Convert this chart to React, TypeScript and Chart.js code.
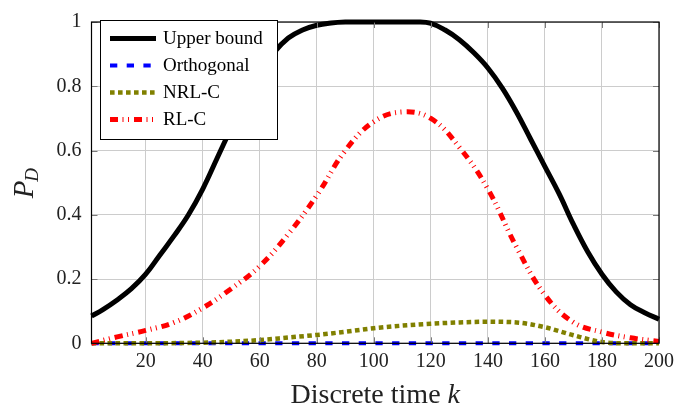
import React, { useEffect, useRef } from "react";
import { Chart, registerables } from "chart.js";

Chart.register(...registerables);

const kUpper = [1, 5, 10, 15, 20, 25, 30, 35, 40, 45, 50, 55, 60, 65, 70, 75, 80, 85, 90, 95, 100, 105, 110, 115, 120, 125, 130, 135, 140, 145, 150, 155, 160, 165, 170, 175, 180, 185, 190, 195, 200];
const upperBound = [0.085, 0.105, 0.135, 0.17, 0.215, 0.275, 0.335, 0.4, 0.48, 0.575, 0.67, 0.76, 0.84, 0.905, 0.95, 0.975, 0.99, 0.997, 1.0, 1.0, 1.0, 1.0, 1.0, 1.0, 0.996, 0.975, 0.945, 0.905, 0.857, 0.795, 0.72, 0.635, 0.55, 0.465, 0.37, 0.285, 0.215, 0.16, 0.12, 0.095, 0.075];

const kOrth = [1, 50, 100, 150, 200];
const orthogonal = [0, 0, 0, 0, 0];

const kNrl = [1, 20, 40, 50, 60, 70, 80, 90, 100, 110, 120, 130, 140, 150, 160, 170, 180, 190, 200];
const nrlC = [0, 0, 0.002, 0.005, 0.01, 0.018, 0.026, 0.036, 0.047, 0.055, 0.061, 0.065, 0.067, 0.065, 0.05, 0.025, 0.004, 0, 0];

const kRl = [1, 10, 20, 30, 40, 50, 60, 70, 80, 90, 100, 110, 120, 130, 140, 150, 160, 170, 180, 190, 200];
const rlC = [0, 0.02, 0.04, 0.065, 0.11, 0.17, 0.24, 0.34, 0.46, 0.6, 0.69, 0.72, 0.7, 0.61, 0.48, 0.3, 0.15, 0.065, 0.035, 0.017, 0.006];

const xTicks = [20, 40, 60, 80, 100, 120, 140, 160, 180, 200];
const yTicks = [0, 0.2, 0.4, 0.6, 0.8, 1];

const seriesNames = ["Upper bound", "Orthogonal", "NRL-C", "RL-C"];

const SERIF = "'Liberation Serif', 'Times New Roman', serif";

const toPts = (xs: number[], ys: number[]) => xs.map((x, i) => ({ x, y: ys[i] }));

const styles = [
  { color: "#000000", width: 5, dash: [] as number[], mono: false },
  { color: "#0000ff", width: 4, dash: [7.3, 9.4], mono: true },
  { color: "#808000", width: 4.5, dash: [4.6, 3.4], mono: true },
  { color: "#ff0000", width: 5, dash: [8, 4.5, 1, 4.5, 1, 5], mono: false },
];

const framePlugin = {
  id: "frame",
  afterDatasetsDraw(chart: any) {
    const { ctx, chartArea: a, scales } = chart;
    ctx.save();
    // inner tick marks
    ctx.strokeStyle = "#7a7a7a";
    ctx.lineWidth = 1;
    const tl = 6;
    xTicks.forEach((v) => {
      const x = Math.round(scales.x.getPixelForValue(v)) + 0.5;
      ctx.beginPath();
      ctx.moveTo(x, a.bottom);
      ctx.lineTo(x, a.bottom - tl);
      ctx.moveTo(x, a.top);
      ctx.lineTo(x, a.top + tl);
      ctx.stroke();
    });
    yTicks.forEach((v) => {
      const y = Math.round(scales.y.getPixelForValue(v)) + 0.5;
      ctx.beginPath();
      ctx.moveTo(a.left, y);
      ctx.lineTo(a.left + tl, y);
      ctx.moveTo(a.right, y);
      ctx.lineTo(a.right - tl, y);
      ctx.stroke();
    });
    // border
    ctx.strokeStyle = "#000";
    ctx.lineWidth = 1.2;
    ctx.setLineDash([]);
    ctx.strokeRect(a.left, a.top, a.right - a.left, a.bottom - a.top);

    // legend
    const lx = 100, ly = 20, lw = 177, lh = 119;
    ctx.fillStyle = "#fff";
    ctx.fillRect(lx, ly, lw, lh);
    ctx.lineWidth = 1;
    ctx.strokeStyle = "#000";
    ctx.strokeRect(lx + 0.5, ly + 0.5, lw, lh);
    ctx.font = `19px ${SERIF}`;
    ctx.textBaseline = "middle";
    ctx.textAlign = "left";
    seriesNames.forEach((name, i) => {
      const y = 38.5 + i * 27;
      const s = styles[i];
      ctx.beginPath();
      ctx.strokeStyle = s.color;
      ctx.lineWidth = s.width;
      ctx.lineCap = "butt";
      ctx.setLineDash(s.dash);
      ctx.moveTo(110, y);
      ctx.lineTo(156, y);
      ctx.stroke();
      ctx.setLineDash([]);
      ctx.fillStyle = "#000";
      ctx.fillText(name, 163, y + 1);
    });

    // x title
    ctx.fillStyle = "#222";
    ctx.textBaseline = "alphabetic";
    const t1 = "Discrete time ";
    ctx.font = `italic 28px ${SERIF}`;
    const wk = ctx.measureText("k").width;
    ctx.font = `28px ${SERIF}`;
    const w1 = ctx.measureText(t1).width;
    const cx = (a.left + a.right) / 2;
    const sx = cx - (w1 + wk) / 2;
    ctx.fillText(t1, sx, 403);
    ctx.font = `italic 28px ${SERIF}`;
    ctx.fillText("k", sx + w1, 403);

    // y title
    ctx.save();
    ctx.translate(33, (a.top + a.bottom) / 2);
    ctx.rotate(-Math.PI / 2);
    ctx.font = `italic 29px ${SERIF}`;
    const wp = ctx.measureText("P").width;
    ctx.font = `italic 19px ${SERIF}`;
    const wd = ctx.measureText("D").width;
    const start = -(wp + wd) / 2;
    ctx.font = `italic 29px ${SERIF}`;
    ctx.fillText("P", start, 0);
    ctx.font = `italic 19px ${SERIF}`;
    ctx.fillText("D", start + wp - 1, 5);
    ctx.restore();

    ctx.restore();
  },
};

export default function App() {
  const ref = useRef<HTMLCanvasElement>(null);
  useEffect(() => {
    if (!ref.current) return;
    const datasets = [
      toPts(kUpper, upperBound),
      toPts(kOrth, orthogonal),
      toPts(kNrl, nrlC),
      toPts(kRl, rlC),
    ].map((data, i) => ({
      label: seriesNames[i],
      data,
      borderColor: styles[i].color,
      backgroundColor: styles[i].color,
      borderWidth: styles[i].width,
      borderDash: styles[i].dash,
      borderCapStyle: "butt" as const,
      pointRadius: 0,
      tension: 0.4,
      cubicInterpolationMode: styles[i].mono ? ("monotone" as const) : ("default" as const),
      fill: false,
      order: 4 - i,
      clip: 3,
    }));
    const chart = new Chart(ref.current, {
      type: "line",
      data: { datasets },
      plugins: [framePlugin],
      options: {
        responsive: false,
        animation: false,
        events: [],
        layout: { padding: { left: 0, right: 30, top: 11, bottom: 0 } },
        plugins: { legend: { display: false }, tooltip: { enabled: false } },
        scales: {
          x: {
            type: "linear",
            min: 1,
            max: 200,
            afterBuildTicks: (s: any) => {
              s.ticks = xTicks.map((v) => ({ value: v }));
            },
            afterFit: (s: any) => {
              s.height = 69.7;
            },
            ticks: {
              font: { family: SERIF, size: 20 },
              color: "#222",
              padding: 6,
              maxRotation: 0,
              autoSkip: false,
            },
            grid: { color: "#cccccc", lineWidth: 1, drawTicks: false },
            border: { display: false },
          },
          y: {
            type: "linear",
            min: 0,
            max: 1,
            afterBuildTicks: (s: any) => {
              s.ticks = yTicks.map((v) => ({ value: v }));
            },
            afterFit: (s: any) => {
              s.width = 91.5;
            },
            ticks: {
              font: { family: SERIF, size: 20 },
              color: "#222",
              padding: 10,
              callback: (v: any) => String(v),
            },
            grid: { color: "#cccccc", lineWidth: 1, drawTicks: false },
            border: { display: false },
          },
        },
      },
    });
    return () => chart.destroy();
  }, []);
  return (
    <div style={{ position: "absolute", left: 0, top: 0, width: 689, height: 413, background: "#fff" }}>
      <canvas ref={ref} width={689} height={413} style={{ display: "block" }} />
    </div>
  );
}
